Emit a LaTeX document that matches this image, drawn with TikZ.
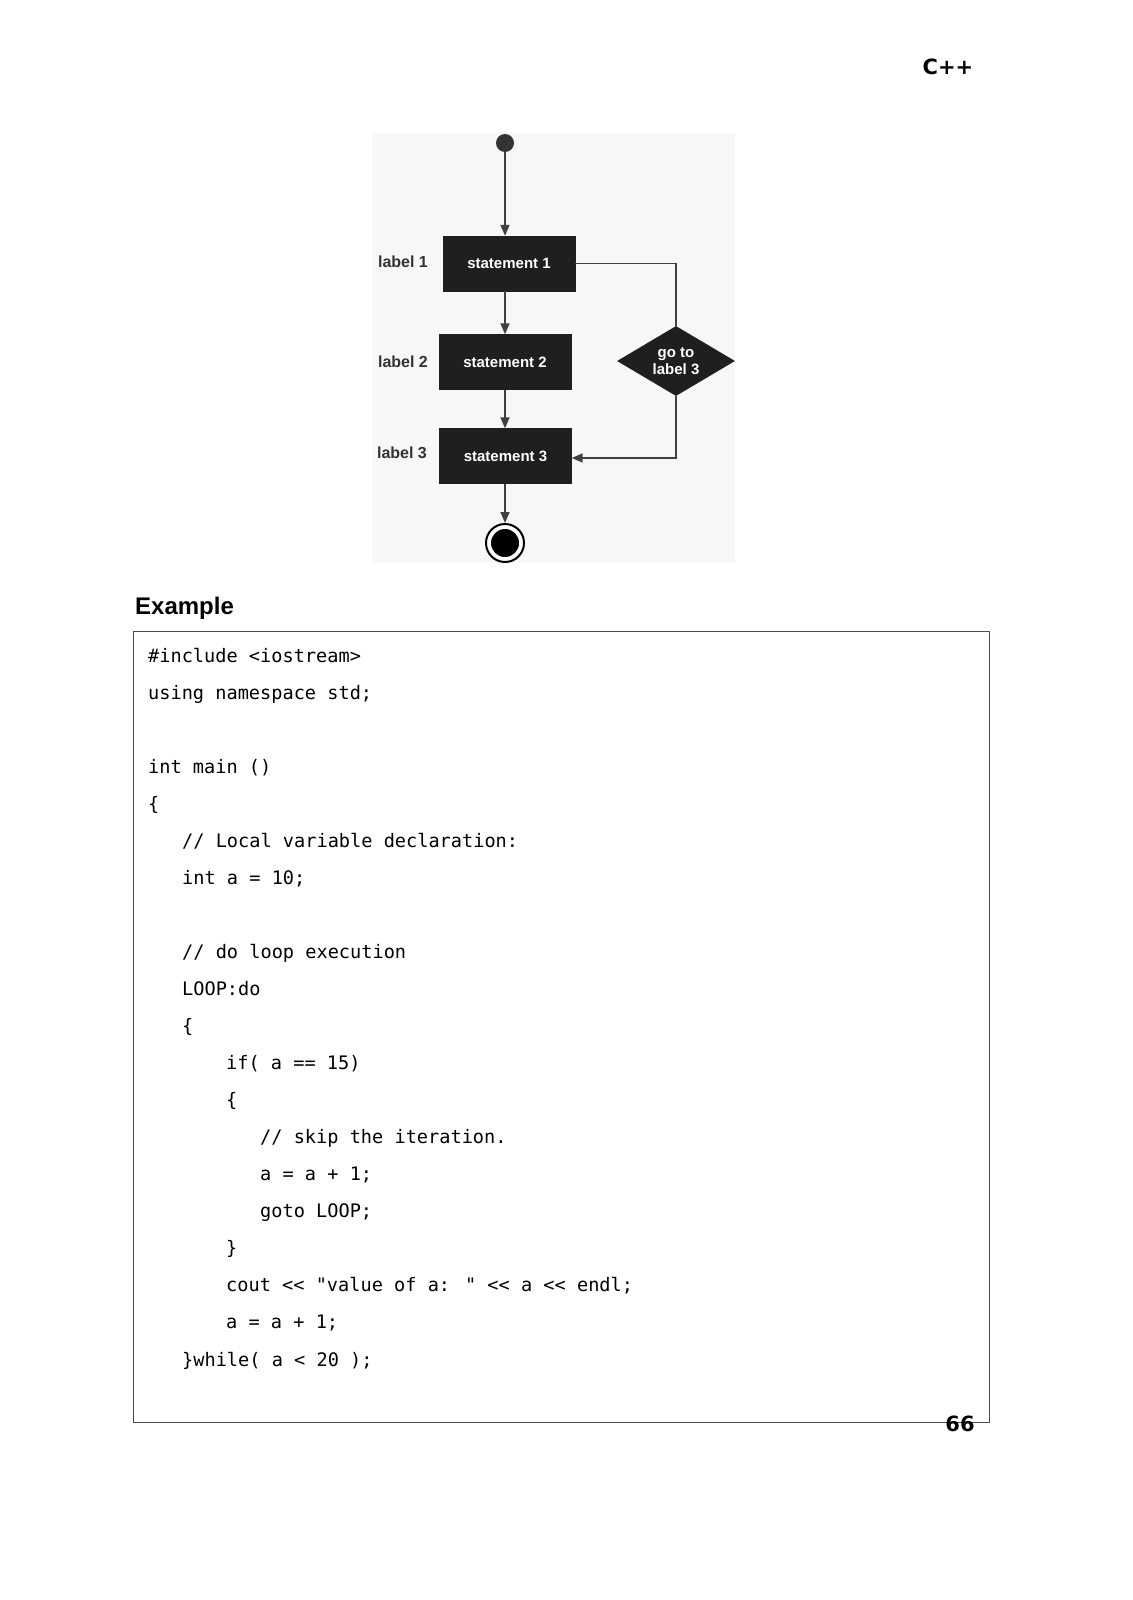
\documentclass[tikz,border=0pt]{standalone}
\usepackage{fontspec}
\setmainfont{DejaVu Sans}
\newfontfamily\lib{Liberation Sans}
\newfontfamily\mono{DejaVu Sans Mono}
\usetikzlibrary{shapes.geometric,arrows.meta}
\begin{document}
\begin{tikzpicture}[x=1pt,y=-1pt,
  box/.style={fill=black!88,draw=black!88,minimum width=132pt,minimum height=55pt,text=white,font=\lib\bfseries\fontsize{15}{17}\selectfont},
  lab/.style={text=black!80,font=\lib\bfseries\fontsize{16}{18}\selectfont},
  arr/.style={draw=black!75,line width=1.6pt,-{Triangle[length=11pt,width=9pt]}},
  ln/.style={draw=black!75,line width=1.6pt},
  code/.style={anchor=base west,font=\mono\fontsize{18.6}{20}\selectfont,inner sep=0pt}]
\useasboundingbox (0,0) rectangle (1132,1600);
\fill[white] (0,0) rectangle (1132,1600);
\node[font=\bfseries\fontsize{21}{24}\selectfont] (hdr) at (948,67) {C++};
\fill[black!3] (372,133) rectangle (735,563);
\node[circle,fill=black!80,inner sep=0pt,minimum size=18pt] (start) at (505,143) {};
\node[box] (s1) at (509,263.5) {statement 1};
\node[box] (s2) at (505,362) {statement 2};
\node[box] (s3) at (505.5,456) {statement 3};
\node[lab] (l1) at (403,262) {label 1};
\node[lab] (l2) at (403,362) {label 2};
\node[lab] (l3) at (402,453) {label 3};
\node[diamond,aspect=1.7,fill=black!88,inner sep=1pt,minimum width=118pt,minimum height=70pt,text=white,align=center,font=\lib\bfseries\fontsize{15}{17}\selectfont] (d) at (676,361) {go to\\label 3};
\node[circle,draw=black,line width=2pt,fill=white,inner sep=0pt,minimum size=38pt] (end) at (505,543) {};
\node[circle,fill=black,inner sep=0pt,minimum size=28pt] at (end) {};
\draw[arr] (start) -- (s1.north -| start);
\draw[arr] (s1.south -| start) -- (s2.north -| start);
\draw[arr] (s2.south -| start) -- (s3.north -| start);
\draw[arr] (s3.south -| start) -- (end);
\draw[ln] (s1.east) -- (s1.east -| d.north) -- (d.north);
\draw[arr] (d.south) -- (d.south |- 458,458) -- (s3.east |- 458,458);
\node[anchor=base west,font=\lib\bfseries\fontsize{24}{28}\selectfont,inner sep=0pt] (ex) at (135,614) {Example};
\draw[black!70,line width=0.8pt] (133,631) rectangle (989,1422);
\node[code] (c1) at (148,662) {\#include <iostream>};
\node[code] (c2) at (148,699) {using namespace std;};
\node[code] (c3) at (148,773) {int main ()};
\node[code] (c4) at (148,810) {\{};
\node[code] (c5) at (182,847) {// Local variable declaration:};
\node[code] (c6) at (182,884) {int a = 10;};
\node[code] (c7) at (182,958) {// do loop execution};
\node[code] (c8) at (182,995) {LOOP:do};
\node[code] (c9) at (182,1032) {\{};
\node[code] (c10) at (226,1069) {if( a == 15)};
\node[code] (c11) at (226,1106) {\{};
\node[code] (c12) at (260,1143) {// skip the iteration.};
\node[code] (c13) at (260,1180) {a = a + 1;};
\node[code] (c14) at (260,1217) {goto LOOP;};
\node[code] (c15) at (226,1254) {\}};
\node[code] (c16) at (226,1291) {cout << "value of a: " << a << endl;};
\node[code] (c17) at (226,1328) {a = a + 1;};
\node[code] (c18) at (182,1366) {\}while( a < 20 );};
\node[font=\bfseries\fontsize{21}{24}\selectfont] (pg) at (960,1424) {66};
\end{tikzpicture}
\end{document}
